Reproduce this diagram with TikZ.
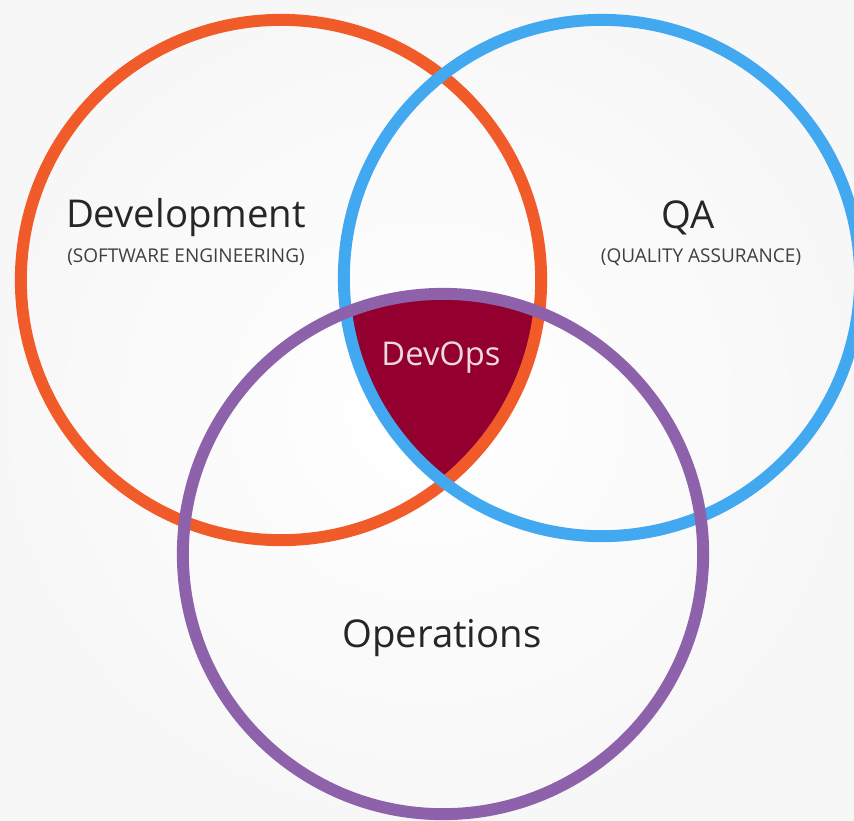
\documentclass[tikz,border=0pt]{standalone}
\usepackage{fontspec}
\setmainfont{Open Sans}
\definecolor{devorange}{HTML}{F15A29}
\definecolor{qablue}{HTML}{42A8F0}
\definecolor{opspurple}{HTML}{8E62AB}
\definecolor{devopsred}{HTML}{93002F}
\tikzset{
  ring/.style={line width=3.4pt},
  bigname/.style={text=black!85, font=\fontsize{10.9}{13}\selectfont},
  subname/.style={text=black!75, font=\fontsize{5.4}{6}\selectfont}
}
\begin{document}
\begin{tikzpicture}[x=0.01cm,y=-0.01cm]
  \shade[inner color=white, outer color=black!3] (0,0) rectangle (854,820);
  \useasboundingbox (0,0) rectangle (854,820);
  % common part of the three sets
  \begin{scope}
    \clip (281,280) circle (2.6cm);
    \clip (602,278) circle (2.58cm);
    \fill[devopsred] (443,554) circle (2.6cm);
  \end{scope}
  \draw[ring, devorange] (281,280) circle (2.6cm);
  \draw[ring, qablue] (602,278) circle (2.58cm);
  \draw[ring, opspurple] (443,554) circle (2.6cm);
  \node[bigname] (dev) at (186,218) {Development};
  \node[subname] (devsub) at (186,257) {(SOFTWARE ENGINEERING)};
  \node[bigname] (qa) at (688,218) {QA};
  \node[subname] (qasub) at (701,257) {(QUALITY ASSURANCE)};
  \node[bigname, font=\fontsize{9.3}{11}\selectfont, text=white!85!devopsred] (devops) at (441,358) {DevOps};
  \node[bigname] (ops) at (442,638) {Operations};
\end{tikzpicture}
\end{document}
